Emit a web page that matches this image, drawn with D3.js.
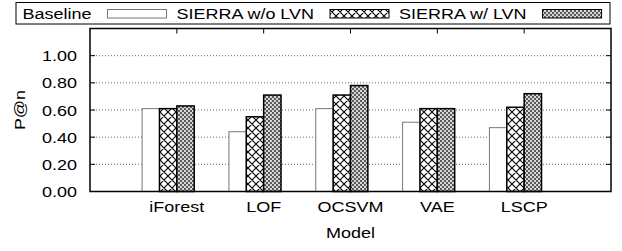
<!DOCTYPE html>
<html>
<head>
<meta charset="utf-8">
<script src="https://cdn.jsdelivr.net/npm/d3@7"></script>
<style>
  body { margin: 0; background: #fff; }
  svg text { font-family: "Liberation Sans", Arial, Helvetica, sans-serif; font-size: 15px; fill: #000; }
</style>
</head>
<body>
<svg id="chart" width="622" height="251"></svg>
<script>
"use strict";

// Data
var models = ['iForest', 'LOF', 'OCSVM', 'VAE', 'LSCP'];
var seriesNames = ['Baseline', 'SIERRA w/o LVN', 'SIERRA w/ LVN'];
var baseline = [0.61, 0.44, 0.61, 0.51, 0.47];
var sierraNoLvn = [0.61, 0.55, 0.71, 0.61, 0.62];
var sierraLvn = [0.63, 0.71, 0.78, 0.61, 0.72];
var yTicks = [0, 0.2, 0.4, 0.6, 0.8, 1.0];

var seriesValues = [baseline, sierraNoLvn, sierraLvn];
var fills = ['#fff', 'url(#crossHatch)', 'url(#checker)'];
var strokes = ['#777', '#000', '#000'];
var strokeW = [1, 1.5, 1.5];

// text in the reference is slightly stretched horizontally
var sx = 1.2;

var svg = d3.select('#chart');

// plot frame geometry
var pl = {l: 90, r: 611, t: 28.5, b: 191.5};

var x = d3.scaleLinear().domain([-1, 5]).range([pl.l, pl.r]);
var y = d3.scaleLinear().domain([0, 1.2]).range([pl.b, pl.t]);
var barW = x(0.2) - x(0);

// patterns
var defs = svg.append('defs');
var ch = defs.append('pattern').attr('id', 'crossHatch').attr('patternUnits', 'userSpaceOnUse')
	.attr('width', 8).attr('height', 8);
ch.append('rect').attr('width', 8).attr('height', 8).attr('fill', '#fff');
ch.append('path').attr('d', 'M0,0L8,8M8,0L0,8M-1,7L1,9M7,-1L9,1M-1,1L1,-1M7,9L9,7')
	.attr('stroke', '#000').attr('stroke-width', 1.1);

var ck = defs.append('pattern').attr('id', 'checker').attr('patternUnits', 'userSpaceOnUse')
	.attr('width', 4).attr('height', 4);
ck.append('rect').attr('width', 4).attr('height', 4).attr('fill', '#d8d8d8');
ck.append('rect').attr('width', 2).attr('height', 2).attr('fill', '#5a5a5a');
ck.append('rect').attr('x', 2).attr('y', 2).attr('width', 2).attr('height', 2).attr('fill', '#5a5a5a');

// helper for stretched text
function sText(g, tx, ty, str, anchor) {
	return g.append('text')
		.attr('transform', 'translate(' + tx + ',' + ty + ') scale(' + sx + ',1)')
		.attr('text-anchor', anchor || 'start')
		.text(str);
}

// grid lines
svg.append('g').selectAll('line').data(yTicks.filter(function(d) { return d > 0; }))
	.join('line')
	.attr('x1', pl.l).attr('x2', pl.r)
	.attr('y1', function(d) { return y(d); }).attr('y2', function(d) { return y(d); })
	.attr('stroke', '#444').attr('stroke-width', 0.8).attr('stroke-dasharray', '1,2');

// y ticks (both sides, inward)
var yt = svg.append('g');
yTicks.forEach(function(d) {
	yt.append('line').attr('x1', pl.l).attr('x2', pl.l + 5).attr('y1', y(d)).attr('y2', y(d))
		.attr('stroke', '#000');
	yt.append('line').attr('x1', pl.r).attr('x2', pl.r - 5).attr('y1', y(d)).attr('y2', y(d))
		.attr('stroke', '#000');
	sText(yt, 77, y(d) + 5.5, d3.format('.2f')(d), 'end');
});

// x ticks (top and bottom, inward) and labels
var xt = svg.append('g');
models.forEach(function(m, i) {
	xt.append('line').attr('x1', x(i)).attr('x2', x(i)).attr('y1', pl.t).attr('y2', pl.t + 5)
		.attr('stroke', '#000');
	xt.append('line').attr('x1', x(i)).attr('x2', x(i)).attr('y1', pl.b).attr('y2', pl.b - 5)
		.attr('stroke', '#000');
	sText(xt, x(i), 212, m, 'middle');
});

// bars
seriesValues.forEach(function(vals, j) {
	svg.append('g').selectAll('rect').data(vals).join('rect')
		.attr('x', function(d, i) { return x(i + (j - 2) * 0.2); })
		.attr('y', function(d) { return y(d); })
		.attr('width', barW)
		.attr('height', function(d) { return y(0) - y(d); })
		.attr('fill', fills[j])
		.attr('stroke', strokes[j])
		.attr('stroke-width', strokeW[j]);
});

// frame
svg.append('rect').attr('x', pl.l).attr('y', pl.t)
	.attr('width', pl.r - pl.l).attr('height', pl.b - pl.t)
	.attr('fill', 'none').attr('stroke', '#000').attr('stroke-width', 1.5);

// axis titles
sText(svg, (pl.l + pl.r) / 2, 238, 'Model', 'middle');
svg.append('text')
	.attr('transform', 'translate(25,110) rotate(-90) scale(' + sx + ',1)')
	.attr('text-anchor', 'middle')
	.text('P@n');

// legend
var lg = svg.append('g');
lg.append('rect').attr('x', 16).attr('y', 2.5).attr('width', 594).attr('height', 21.5)
	.attr('fill', '#fff').attr('stroke', '#000').attr('stroke-width', 1);
var lx = 22.5;
seriesNames.forEach(function(name, j) {
	var t = sText(lg, lx, 18.5, name);
	var tw = t.node().getComputedTextLength() * sx;
	lx += tw + 16;
	lg.append('rect').attr('x', lx).attr('y', 9.5).attr('width', 59).attr('height', 8.5)
		.attr('fill', fills[j]).attr('stroke', strokes[j]).attr('stroke-width', 1);
	lx += 59 + 10;
});
</script>
</body>
</html>
